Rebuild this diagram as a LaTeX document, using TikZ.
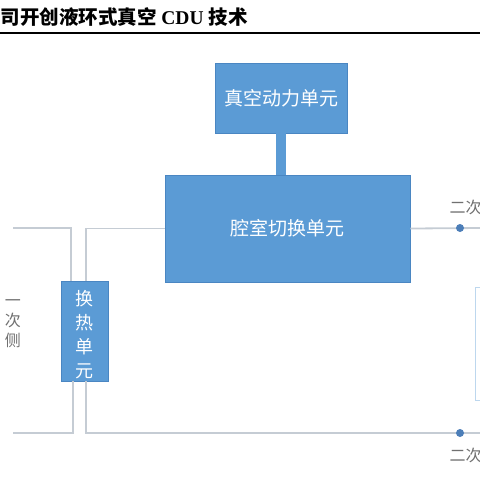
\documentclass[tikz,border=0pt]{standalone}
\usepackage{fontspec}
\setmainfont{Liberation Serif}
\newfontfamily\cjk{Noto Sans CJK SC}
\usetikzlibrary{calc}
\definecolor{unitblue}{HTML}{5B9BD5}
\definecolor{unitedge}{HTML}{4A86C2}
\definecolor{pipegray}{HTML}{C5CCD4}
\definecolor{dotblue}{HTML}{4C7EB8}
\definecolor{sidegray}{HTML}{707070}
\tikzset{
  unit/.style={draw=unitedge, fill=unitblue, text=white, line width=0.8pt,
    inner sep=0pt, font=\cjk\fontsize{19}{22}\selectfont},
  pipe/.style={draw=pipegray, line width=1.8pt},
  port/.style={circle, fill=dotblue, inner sep=0pt, minimum size=8pt},
  sidelabel/.style={text=sidegray, font=\cjk\fontsize{16}{20}\selectfont}
}

\begin{document}
\begin{tikzpicture}[x=1pt,y=-1pt]
\useasboundingbox (0,0) rectangle (480,480);
\clip (0,0) rectangle (480,480);
% title and rule
\node[anchor=west, font=\fontsize{19.5}{22}\selectfont\bfseries] (title) at (-3,17)
  {{\cjk\bfseries 司开创液环式真空} CDU {\cjk\bfseries 技术}};
\draw[line width=1.2pt] (0,33) -- (480,33);
% units
\node[unit, minimum width=47pt, minimum height=100pt,
  font=\cjk\fontsize{18}{24}\selectfont] (hx) at (84.5,331)
  {\parbox{20pt}{\centering\vspace*{7pt}换\\热\\单\\元}};
\node[unit, minimum width=132pt, minimum height=70pt] (vac) at (281,98) {真空动力单元};
\node[unit, minimum width=245pt, minimum height=107pt] (cav) at (287.5,228.5) {腔室切换单元};
\fill[unitblue] ($(vac.south)+(-5.5,0)$) rectangle ($(cav.north)+(-1.5,0)$);
% pipes
\coordinate (pin) at (13,228);
\coordinate (pout) at (13,433);
\coordinate (sin) at (482,228);
\coordinate (sout) at (482,433);
\draw[pipe] (pin) -| (71,281);
\draw[pipe] (pout) -| (73,381);
\draw[pipe] (86,281) |- (cav.west);
\draw[pipe] (86,381) |- (sout);
\draw[pipe] (cav.east) -- (sin);
\node[port] (dtop) at (460,228) {};
\node[port] (dbot) at (460,433) {};
% side labels
\node[sidelabel, align=center, font=\cjk\fontsize{16}{20}\selectfont] (prim) at (13,324) {一\\次\\侧};
\node[sidelabel, anchor=west] (sectop) at (446,207) {二次};
\node[sidelabel, anchor=west] (secbot) at (446,455) {二次};
% edge of the next panel
\draw[draw=unitblue!40, line width=1pt] (475,287) rectangle (495,400);
\end{tikzpicture}
\end{document}
